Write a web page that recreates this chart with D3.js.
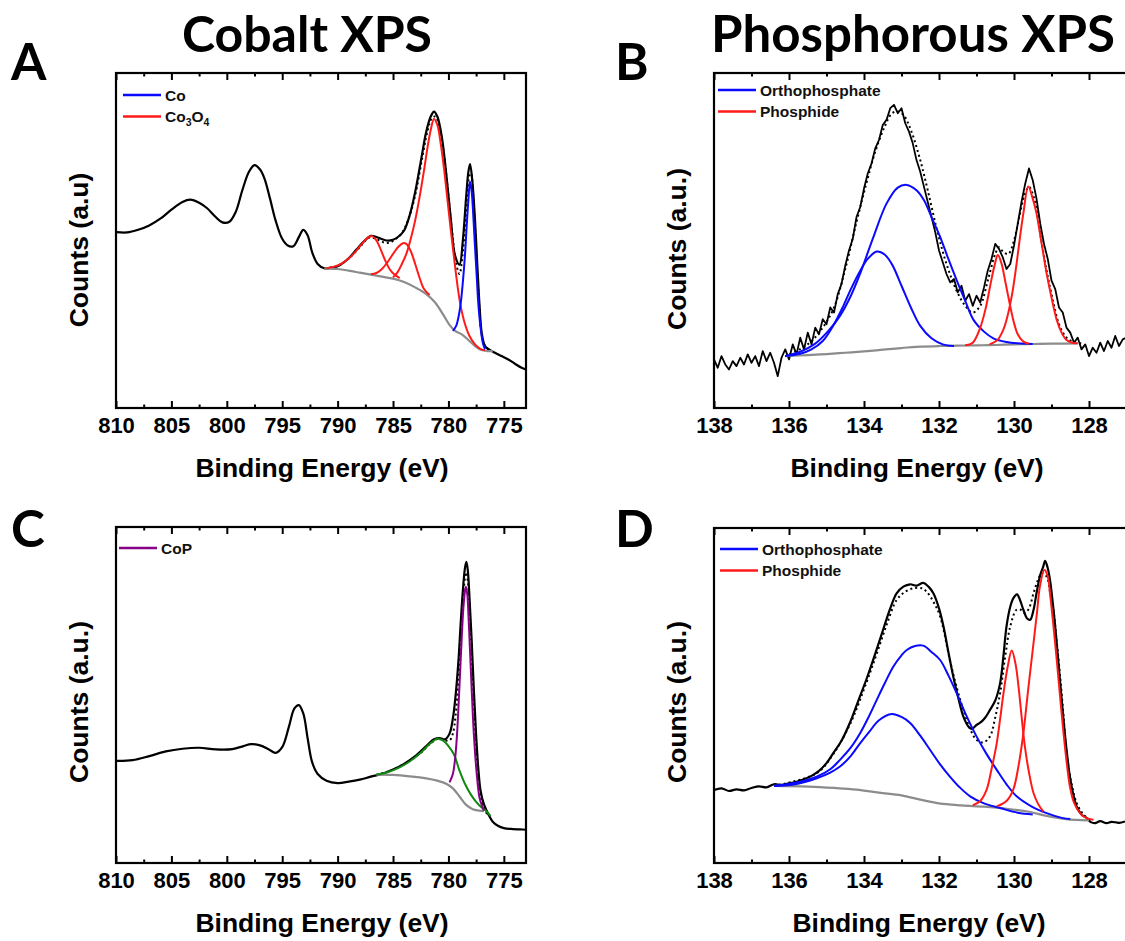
<!DOCTYPE html>
<html><head><meta charset="utf-8">
<script src="https://cdn.jsdelivr.net/npm/d3@7"></script>
<style>body{margin:0;background:#fff;} svg{display:block}</style>
</head><body>
<svg id="fig" width="1125" height="941"></svg>
<script>
// ---------------- DATA ----------------
const panelTitles = ["Cobalt XPS", "Phosphorous XPS"];
const panelLetters = ["A", "B", "C", "D"];
const xTitle = "Binding Energy (eV)";
const yTitles = ["Counts (a.u)", "Counts (a.u.)", "Counts (a.u.)", "Counts (a.u.)"];
const coTicks = [810, 805, 800, 795, 790, 785, 780, 775];
const coMinorTicks = [807.5, 802.5, 797.5, 792.5, 787.5, 782.5, 777.5];
const pTicks = [138, 136, 134, 132, 130, 128];
const pMinorTicks = [137, 135, 133, 131, 129, 127];
const legendA = ["Co", "Co3O4"];
const legendB = ["Orthophosphate", "Phosphide"];
const legendC = ["CoP"];
const legendD = ["Orthophosphate", "Phosphide"];

// Panel A (Co 2p, sample 1) [eV, counts a.u. 0-100]
const aRaw = [[810,52.5],[809,52.4],[808,53.2],[807,54.5],[806,56.5],[805,59.2],[804,61.5],[803.3,62.2],[802.5,61.3],[801.8,59.7],[801,57.0],[800.4,55.4],[799.8,55.5],[799.2,58.5],[798.6,65.0],[798.0,70.5],[797.5,72.5],[797.0,71.2],[796.6,68.5],[796.1,62.5],[795.6,56.0],[795.0,50.5],[794.5,48.5],[794.0,48.3],[793.5,51.0],[793.1,53.2],[792.7,51.5],[792.3,46.5],[791.8,43.0],[791.2,41.7],[790.5,41.9],[790.0,42.3],[789.0,44.7],[788.3,47.3],[787.6,49.8],[787.0,51.4],[786.3,50.8],[785.6,50.0],[785.0,50.2],[784.5,51.2],[784.0,53.0],[783.5,57.5],[783.0,64.5],[782.5,73.5],[782.0,82.5],[781.6,87.0],[781.3,88.5],[781.0,87.0],[780.6,81.0],[780.2,70.0],[779.8,57.0],[779.4,45.5],[779.0,42.8],[778.7,50.0],[778.4,63.0],[778.2,70.5],[778.05,72.8],[777.85,68.0],[777.6,56.0],[777.4,43.0],[777.2,31.0],[777.0,22.5],[776.7,18.5],[776.3,17.4],[775.8,16.5],[775.2,15.5],[774.6,14.5],[774.0,13.2],[773.4,12.0],[773.0,11.5]];
const aFit = [[791.2,41.7],[790,42.4],[789,44.6],[788,48.0],[787.2,50.8],[786.6,50.6],[786.0,49.6],[785.4,49.3],[784.8,50.3],[784.2,52.2],[783.6,56.5],[783.0,63.5],[782.4,74.0],[781.9,82.5],[781.5,86.5],[781.2,87.0],[780.9,85.0],[780.5,78.0],[780.1,66.5],[779.7,53.5],[779.3,43.0],[779.0,40.0],[778.75,45.0],[778.5,54.0],[778.3,63.5],[778.1,69.5],[777.95,70.0],[777.8,65.0],[777.6,53.5],[777.4,40.5],[777.2,29.5],[777.0,22.0],[776.7,18.5],[776.4,17.5]];
const aBackground = [[791.2,41.7],[790,41.5],[789,41.0],[788,40.4],[787,39.8],[786,39.2],[785,38.6],[784,37.6],[783,36.0],[782,34.0],[781.2,31.5],[780.5,28.0],[779.9,24.8],[779.4,23.0],[778.8,22.0],[778.2,20.3],[777.6,18.5],[777.0,17.3],[776.5,17.0],[776.0,17.0]];
const aCo = [[779.6,23.0],[779.3,24.5],[779.1,27.0],[778.9,31.0],[778.7,37.5],[778.5,46.0],[778.35,54.5],[778.2,62.0],[778.05,67.6],[777.9,64.5],[777.75,57.0],[777.6,48.0],[777.45,39.5],[777.3,31.0],[777.1,24.0],[776.9,19.5],[776.7,17.5]];
const aCo3O4Sat = [[791.0,41.7],[790.3,42.2],[789.6,43.2],[789.0,44.6],[788.4,46.6],[787.8,49.0],[787.3,50.8],[786.9,51.3],[786.5,50.0],[786.1,47.2],[785.7,44.0],[785.3,41.4],[784.9,39.9],[784.4,38.8]];
const aCo3O4Mid = [[787.0,39.9],[786.5,40.3],[786.0,41.5],[785.5,43.5],[785.0,46.0],[784.5,48.2],[784.1,49.2],[783.8,49.0],[783.4,46.8],[783.0,43.0],[782.6,38.8],[782.2,35.5],[781.7,33.7]];
const aCo3O4Main = [[785.0,39.0],[784.6,40.5],[784.2,43.0],[783.8,46.0],[783.4,50.5],[783.0,56.0],[782.6,63.0],[782.2,71.0],[781.9,77.5],[781.6,83.0],[781.3,86.3],[781.0,84.5],[780.7,79.0],[780.4,71.5],[780.1,62.5],[779.8,53.5],[779.5,45.0],[779.2,37.0],[778.9,30.5],[778.5,25.0],[778.1,21.5],[777.6,19.0],[777.1,17.6],[776.7,17.2]];

// Panel B (P 2p, sample 1)
const bRaw = [[138.0,14.5],[137.9,12.0],[137.8,15.5],[137.7,13.0],[137.6,11.5],[137.5,14.0],[137.4,12.5],[137.3,15.0],[137.2,13.0],[137.1,16.0],[137.0,13.5],[136.9,15.5],[136.8,12.5],[136.7,17.0],[136.6,14.0],[136.5,16.5],[136.4,13.5],[136.3,9.5],[136.2,15.0],[136.1,17.5],[136.0,14.5],[135.9,19.0],[135.8,16.0],[135.7,21.0],[135.6,17.5],[135.5,22.5],[135.4,19.0],[135.3,24.0],[135.2,22.0],[135.1,26.5],[135.0,25.0],[134.9,30.0],[134.8,28.5],[134.7,34.0],[134.6,37.0],[134.5,42.5],[134.4,47.0],[134.3,50.5],[134.2,57.0],[134.1,60.0],[134.0,65.5],[133.9,70.0],[133.8,73.0],[133.7,77.5],[133.6,80.0],[133.5,84.5],[133.4,86.0],[133.3,89.5],[133.2,90.5],[133.1,88.0],[133.0,89.5],[132.9,85.0],[132.8,82.5],[132.7,79.0],[132.6,74.0],[132.5,70.5],[132.4,66.0],[132.3,61.5],[132.2,57.0],[132.1,52.5],[132.0,47.0],[131.9,43.5],[131.8,40.0],[131.7,37.5],[131.6,38.5],[131.5,34.5],[131.4,36.5],[131.3,32.0],[131.2,34.0],[131.1,30.5],[131.0,33.5],[130.9,31.5],[130.8,36.0],[130.7,41.0],[130.6,44.5],[130.5,49.0],[130.4,47.5],[130.3,45.0],[130.2,41.5],[130.1,43.0],[130.0,48.5],[129.9,55.0],[129.8,61.5],[129.7,67.0],[129.6,71.5],[129.5,68.0],[129.4,62.5],[129.3,55.0],[129.2,49.0],[129.1,44.5],[129.0,38.0],[128.9,35.5],[128.8,30.0],[128.7,28.5],[128.6,24.0],[128.5,22.5],[128.4,19.5],[128.3,21.0],[128.2,17.5],[128.1,19.0],[128.0,15.5],[127.9,18.0],[127.8,16.5],[127.7,19.5],[127.6,17.0],[127.5,20.0],[127.4,18.0],[127.3,21.5],[127.2,18.5],[127.1,20.5],[127.0,21.0]];
const bFit = [[136.1,15.5],[135.5,19.0],[135.1,24.0],[134.8,30.0],[134.5,41.5],[134.2,55.5],[133.95,66.5],[133.7,76.5],[133.45,84.0],[133.25,88.0],[133.1,88.5],[132.95,87.5],[132.75,83.0],[132.5,74.0],[132.3,65.0],[132.05,53.0],[131.8,43.0],[131.53,35.0],[131.3,30.5],[131.1,28.5],[130.9,30.5],[130.7,38.0],[130.5,46.0],[130.4,48.0],[130.28,46.5],[130.15,46.0],[130.0,50.0],[129.85,57.5],[129.72,63.5],[129.6,66.0],[129.45,62.0],[129.3,52.0],[129.13,41.0],[128.95,31.5],[128.8,25.0],[128.6,21.0],[128.4,19.6],[128.2,19.3]];
const bBackground = [[136.1,15.5],[135.5,15.8],[135.0,16.1],[134.5,16.5],[134.0,16.9],[133.5,17.4],[133.0,17.9],[132.5,18.3],[132.0,18.5],[131.5,18.6],[131.0,18.7],[130.5,18.8],[130.0,19.0],[129.5,19.1],[129.0,19.2],[128.3,19.3]];
const bOrtho1 = [[136.1,15.5],[135.7,16.2],[135.4,17.5],[135.1,20.0],[134.8,25.0],[134.55,30.5],[134.35,35.5],[134.1,41.0],[133.9,44.5],[133.66,46.7],[133.45,45.8],[133.25,42.8],[133.0,36.5],[132.75,30.0],[132.5,24.5],[132.2,20.8],[131.9,19.0],[131.6,18.5]];
const bOrtho2 = [[136.1,15.5],[135.7,16.8],[135.3,19.2],[134.95,23.0],[134.64,27.5],[134.35,33.5],[134.1,40.2],[133.75,51.0],[133.4,61.0],[133.1,65.8],[132.86,66.6],[132.6,65.0],[132.4,62.0],[132.2,57.0],[131.97,51.1],[131.75,44.5],[131.53,38.2],[131.3,32.0],[131.08,26.3],[130.8,22.8],[130.55,20.8],[130.2,19.7],[129.9,19.3],[129.5,19.1]];
const bPhos1 = [[131.3,18.7],[131.1,19.5],[130.9,24.0],[130.75,30.0],[130.64,36.2],[130.52,42.5],[130.43,45.7],[130.33,43.0],[130.24,38.2],[130.13,32.0],[130.02,26.3],[129.9,22.0],[129.75,19.8],[129.6,19.2]];
const bPhos2 = [[130.65,19.0],[130.45,20.2],[130.3,23.0],[130.2,26.3],[130.05,34.0],[129.93,43.2],[129.84,51.0],[129.75,58.1],[129.62,66.1],[129.5,62.5],[129.4,58.1],[129.27,49.5],[129.13,40.2],[129.0,33.0],[128.86,26.3],[128.73,22.5],[128.6,20.3],[128.45,19.5],[128.3,19.3]];

// Panel C (Co 2p, sample 2)
const cRaw = [[810,30.4],[808.5,30.6],[807,31.8],[805.5,33.2],[804,34.0],[802.5,34.3],[801,33.8],[799.5,33.9],[798.5,34.8],[797.8,35.4],[797,35.0],[796.2,33.8],[795.6,32.8],[795.0,34.5],[794.4,40.5],[793.9,46.0],[793.5,47.0],[793.1,44.5],[792.7,37.0],[792.3,30.0],[791.8,26.5],[791.0,24.5],[790.0,23.8],[789.0,24.2],[788.0,24.8],[787.0,25.7],[786.0,26.5],[785.0,27.8],[784.0,29.5],[783.0,31.8],[782.0,34.8],[781.3,36.8],[780.8,37.2],[780.3,36.8],[779.9,38.5],[779.6,43],[779.35,50],[779.1,60],[778.9,71],[778.7,81],[778.5,88],[778.38,89.6],[778.25,87],[778.1,79],[777.9,66],[777.7,51],[777.5,38],[777.3,28],[777.1,21.5],[776.8,17.5],[776.4,14.5],[776.0,12.3],[775.5,11.0],[775.0,10.4],[774.2,10.1],[773.5,10.0],[773.0,9.9]];
const cFit = [[786.5,26.3],[785.5,27.2],[784.5,28.6],[783.5,30.4],[782.5,32.8],[781.6,35.6],[780.9,37.0],[780.3,36.5],[779.9,36.5],[779.6,38.5],[779.35,44],[779.1,54],[778.9,66],[778.7,78],[778.5,85],[778.4,86.5],[778.25,84],[778.1,76],[777.9,62],[777.7,47],[777.5,34],[777.3,25],[777.1,19.5],[776.8,16.5],[776.5,14.5]];
const cBackground = [[786.5,26.3],[785.0,26.2],[783.5,25.8],[782.0,25.2],[781.0,24.5],[780.2,23.6],[779.6,22.2],[779.0,19.8],[778.4,17.3],[777.8,16.0],[777.2,15.6],[776.8,15.4]];
const cSatellite = [[786.5,26.3],[785.5,27.0],[784.5,28.3],[783.5,30.2],[782.5,32.8],[781.7,35.4],[781.0,37.0],[780.5,36.5],[780.0,34.8],[779.5,32.3],[779.0,27.5],[778.5,23.5],[778.0,20.5],[777.5,18.2],[777.0,16.5],[776.6,15.5],[776.2,14.0]];
const cCoP = [[779.9,24.0],[779.6,26.5],[779.4,31],[779.25,37],[779.1,46],[778.95,56.5],[778.8,67],[778.65,76],[778.5,81],[778.42,82.2],[778.3,80],[778.2,74.3],[778.05,63],[777.9,51.5],[777.7,38],[777.45,26.7],[777.2,19.5],[777.0,17.3],[776.8,15.6]];

// Panel D (P 2p, sample 2)
const dRaw = [[138.0,21.8],[137.8,22.3],[137.6,21.5],[137.4,22.0],[137.2,21.7],[137.0,22.4],[136.8,22.9],[136.6,22.6],[136.4,23.5],[136.2,23.3],[136.0,23.8],[135.8,24.2],[135.6,25.0],[135.4,26.0],[135.2,27.5],[135.0,29.8],[134.82,32.8],[134.6,36.5],[134.37,42.0],[134.15,48.5],[133.93,55.0],[133.7,62.5],[133.48,70.0],[133.3,76.0],[133.13,80.5],[132.95,82.5],[132.77,83.2],[132.6,82.8],[132.42,83.6],[132.28,82.5],[132.15,80.5],[132.0,76.0],[131.88,70.6],[131.75,63.0],[131.62,55.7],[131.48,49.0],[131.35,43.7],[131.2,40.5],[131.13,40.0],[131.0,41.2],[130.91,41.8],[130.78,43.2],[130.64,45.7],[130.5,48.5],[130.37,53.7],[130.28,62.0],[130.2,70.6],[130.1,76.5],[130.02,79.0],[129.92,80.2],[129.84,78.5],[129.75,75.6],[129.65,73.0],[129.57,72.6],[129.48,75.5],[129.4,80.5],[129.3,86.0],[129.22,88.5],[129.17,90.2],[129.1,88.0],[129.04,84.5],[128.95,76.0],[128.86,65.6],[128.77,54.0],[128.68,42.8],[128.6,34.0],[128.51,25.8],[128.42,20.5],[128.33,16.9],[128.2,14.5],[128.06,13.4],[127.95,12.2],[127.84,11.9],[127.7,12.5],[127.53,11.9],[127.4,12.3],[127.2,12.0],[127.04,12.4]];
const dFit = [[136.4,23.0],[135.26,26.8],[134.82,32.5],[134.37,41.5],[133.93,54.0],[133.66,62.5],[133.4,71.0],[133.13,78.5],[132.9,81.0],[132.68,82.0],[132.45,82.0],[132.33,81.0],[132.15,78.0],[131.97,73.6],[131.71,60.6],[131.53,52.5],[131.35,45.7],[131.15,39.5],[131.0,36.8],[130.82,36.0],[130.64,37.8],[130.5,43.5],[130.37,50.7],[130.23,62.0],[130.1,70.6],[129.93,75.6],[129.8,75.5],[129.71,74.6],[129.6,76.0],[129.48,80.5],[129.36,84.5],[129.26,86.5],[129.13,85.5],[129.04,81.0],[128.95,75.6],[128.86,66.0],[128.77,55.7],[128.68,44.0],[128.6,32.8],[128.47,24.0],[128.33,17.9],[128.15,14.5],[127.97,12.9]];
const dBackground = [[136.4,23.0],[135.5,22.8],[134.8,22.4],[134.2,21.9],[133.6,21.0],[133.0,20.2],[132.5,18.9],[132.0,17.8],[131.4,17.2],[130.8,16.8],[130.2,16.2],[129.6,15.3],[129.1,14.0],[128.6,13.1],[128.0,12.7]];
const dOrtho1 = [[136.4,23.0],[135.8,23.6],[135.26,25.3],[134.9,27.0],[134.64,28.8],[134.35,32.0],[134.1,35.8],[133.85,39.3],[133.6,42.6],[133.26,44.5],[133.0,43.6],[132.77,41.8],[132.5,38.0],[132.24,33.8],[131.98,29.6],[131.71,25.8],[131.45,22.6],[131.17,19.9],[130.8,17.8],[130.37,16.4],[129.9,15.0],[129.5,14.5]];
const dOrtho2 = [[136.4,23.0],[135.8,24.0],[135.26,25.8],[134.9,28.0],[134.64,30.8],[134.35,34.5],[134.1,38.8],[133.88,43.5],[133.66,48.7],[133.44,53.8],[133.22,58.6],[133.0,62.0],[132.86,63.6],[132.64,64.8],[132.42,64.9],[132.2,63.0],[131.97,60.6],[131.75,56.0],[131.53,50.7],[131.27,44.0],[131.0,37.8],[130.73,32.5],[130.46,27.8],[130.2,23.5],[129.93,19.9],[129.55,17.0],[129.13,14.9],[128.7,13.4],[128.5,13.1]];
const dPhos1 = [[131.1,17.2],[130.9,18.5],[130.73,21.9],[130.6,28.0],[130.46,35.8],[130.37,43.0],[130.28,50.7],[130.17,58.5],[130.06,63.4],[129.96,59.5],[129.88,52.7],[129.8,44.0],[129.71,34.8],[129.6,27.0],[129.48,20.9],[129.35,17.5],[129.22,15.4]];
const dPhos2 = [[130.46,16.9],[130.2,18.5],[130.02,21.9],[129.88,29.0],[129.75,38.8],[129.62,52.0],[129.48,65.6],[129.38,75.5],[129.31,82.5],[129.19,87.5],[129.1,85.5],[129.04,80.5],[128.95,71.0],[128.86,60.6],[128.77,49.5],[128.68,38.8],[128.6,30.5],[128.51,22.9],[128.4,18.0],[128.24,14.9],[128.05,13.3],[127.88,12.9]];

// ---------------- DRAWING ----------------
const COL = {blue:"#0a0aff", red:"#ff1a1a", gray:"#8c8c8c", purple:"#880088", green:"#118811", black:"#000"};
const FONT = 'Arial, "Liberation Sans", sans-serif';
const TFONT = 'Lato, "Open Sans", sans-serif';
const svg = d3.select("#fig");

function panel(o) {
  const x = d3.scaleLinear().domain(o.xDomain).range([o.left, o.right]);
  const y = d3.scaleLinear().domain([0, 100]).range([o.bottom, o.top]);
  const g = svg.append("g");
  const clipId = "clip" + o.id;
  svg.append("clipPath").attr("id", clipId).append("rect")
    .attr("x", o.left).attr("y", o.top).attr("width", o.right - o.left).attr("height", o.bottom - o.top);
  const plot = g.append("g").attr("clip-path", `url(#${clipId})`);
  const smooth = d3.line().x(d => x(d[0])).y(d => y(d[1])).curve(d3.curveCatmullRom.alpha(0.5));
  const linear = d3.line().x(d => x(d[0])).y(d => y(d[1]));

  plot.append("path").datum(o.raw).attr("d", o.noisy ? linear : smooth)
    .attr("fill", "none").attr("stroke", COL.black).attr("stroke-width", o.noisy ? 1.8 : 2.2).attr("stroke-linejoin", "round");
  plot.append("path").datum(o.fit).attr("d", smooth)
    .attr("fill", "none").attr("stroke", COL.black).attr("stroke-width", 2).attr("stroke-dasharray", "2,3");
  plot.append("path").datum(o.bg).attr("d", smooth)
    .attr("fill", "none").attr("stroke", COL.gray).attr("stroke-width", 2.2);
  o.comps.forEach(c => {
    plot.append("path").datum(c.data).attr("d", smooth)
      .attr("fill", "none").attr("stroke", c.color).attr("stroke-width", 2);
  });

  // axes: ticks inward, top and bottom
  const fmt = d3.format("d");
  const styleAxis = sel => {
    sel.select(".domain").remove();
    sel.selectAll(".tick line").attr("stroke", "#000").attr("stroke-width", 2);
    sel.selectAll(".tick text").attr("font-family", FONT).attr("font-weight", "bold")
      .attr("font-size", 22).attr("fill", "#000");
  };
  g.append("g").attr("transform", `translate(0,${o.bottom})`)
    .call(d3.axisBottom(x).tickValues(o.ticks).tickSize(-7).tickSizeOuter(0).tickPadding(9).tickFormat(fmt)).call(styleAxis);
  g.append("g").attr("transform", `translate(0,${o.bottom})`)
    .call(d3.axisBottom(x).tickValues(o.minor).tickSize(-3.5).tickSizeOuter(0).tickFormat("")).call(styleAxis);
  g.append("g").attr("transform", `translate(0,${o.top})`)
    .call(d3.axisTop(x).tickValues(o.ticks).tickSize(-7).tickSizeOuter(0).tickFormat("")).call(styleAxis);
  g.append("g").attr("transform", `translate(0,${o.top})`)
    .call(d3.axisTop(x).tickValues(o.minor).tickSize(-3.5).tickSizeOuter(0).tickFormat("")).call(styleAxis);

  g.append("rect").attr("x", o.left).attr("y", o.top).attr("width", o.right - o.left).attr("height", o.bottom - o.top)
    .attr("fill", "none").attr("stroke", "#000").attr("stroke-width", 2.2);

  // axis titles
  g.append("text").attr("x", o.xTitleX).attr("y", o.bottom + 69)
    .attr("text-anchor", "middle").attr("font-family", FONT).attr("font-weight", "bold").attr("font-size", 26.5)
    .text(xTitle);
  g.append("text").attr("transform", `translate(${o.left - 28},${o.yTitleCenter}) rotate(-90)`)
    .attr("text-anchor", "middle").attr("font-family", FONT).attr("font-weight", "bold").attr("font-size", 26.5)
    .text(o.yTitle);

  // legend
  o.legend.forEach((lab, i) => {
    const ly = o.legendY + i * 21.5;
    g.append("line").attr("x1", o.legendX).attr("x2", o.legendX + 38).attr("y1", ly).attr("y2", ly)
      .attr("stroke", o.legendColors[i]).attr("stroke-width", 2.5);
    const t = g.append("text").attr("x", o.legendX + 42).attr("y", ly + 5.5)
      .attr("font-family", FONT).attr("font-weight", "bold").attr("font-size", 15.5).attr("fill", "#111");
    const parts = lab.match(/[A-Za-z]+|\d+/g);
    let sub = false;
    parts.forEach(p => {
      const isNum = /^\d+$/.test(p);
      const ts = t.append("tspan").text(p);
      if (isNum && !sub) { ts.attr("dy", 4).attr("font-size", 10.5); sub = true; }
      else if (!isNum && sub) { ts.attr("dy", -4); sub = false; }
      else if (isNum) ts.attr("font-size", 10.5);
    });
  });

  svg.append("text").attr("x", o.letterX).attr("y", o.letterY)
    .attr("font-family", TFONT).attr("font-weight", "bold").attr("font-size", 51).text(o.letter);
}

panel({id:"A", letter: panelLetters[0], letterX: 11, letterY: 80,
  xDomain:[810, 773], left:116, right:526, top:73, bottom:408,
  ticks: coTicks, minor: coMinorTicks, raw: aRaw, fit: aFit, bg: aBackground,
  comps:[{data:aCo3O4Sat,color:COL.red},{data:aCo3O4Mid,color:COL.red},{data:aCo3O4Main,color:COL.red},{data:aCo,color:COL.blue}],
  legend: legendA, legendColors:[COL.blue, COL.red], legendX:123, legendY:95,
  yTitle: yTitles[0], yTitleCenter: 250, xTitleX: 322});

panel({id:"B", letter: panelLetters[1], letterX: 615, letterY: 80, noisy: true,
  xDomain:[138, 127], left:714, right:1126.5, top:73, bottom:408,
  ticks: pTicks, minor: pMinorTicks, raw: bRaw, fit: bFit, bg: bBackground,
  comps:[{data:bOrtho1,color:COL.blue},{data:bOrtho2,color:COL.blue},{data:bPhos1,color:COL.red},{data:bPhos2,color:COL.red}],
  legend: legendB, legendColors:[COL.blue, COL.red], legendX:718, legendY:90,
  yTitle: yTitles[1], yTitleCenter: 249, xTitleX: 917});

panel({id:"C", letter: panelLetters[2], letterX: 11, letterY: 547,
  xDomain:[810, 773], left:116, right:526, top:527, bottom:863,
  ticks: coTicks, minor: coMinorTicks, raw: cRaw, fit: cFit, bg: cBackground,
  comps:[{data:cSatellite,color:COL.green},{data:cCoP,color:COL.purple}],
  legend: legendC, legendColors:[COL.purple], legendX:119, legendY:548,
  yTitle: yTitles[2], yTitleCenter: 702, xTitleX: 322});

panel({id:"D", letter: panelLetters[3], letterX: 615, letterY: 547,
  xDomain:[138, 127], left:714, right:1126.5, top:528, bottom:863,
  ticks: pTicks, minor: pMinorTicks, raw: dRaw, fit: dFit, bg: dBackground,
  comps:[{data:dOrtho1,color:COL.blue},{data:dOrtho2,color:COL.blue},{data:dPhos1,color:COL.red},{data:dPhos2,color:COL.red}],
  legend: legendD, legendColors:[COL.blue, COL.red], legendX:720, legendY:549,
  yTitle: yTitles[3], yTitleCenter: 702, xTitleX: 919});

svg.append("text").attr("x", 307).attr("y", 52).attr("text-anchor", "middle")
  .attr("font-family", TFONT).attr("font-weight", "bold").attr("font-size", 50).text(panelTitles[0]);
svg.append("text").attr("x", 913).attr("y", 52).attr("text-anchor", "middle")
  .attr("font-family", TFONT).attr("font-weight", "bold").attr("font-size", 51).text(panelTitles[1]);
</script>
</body></html>
